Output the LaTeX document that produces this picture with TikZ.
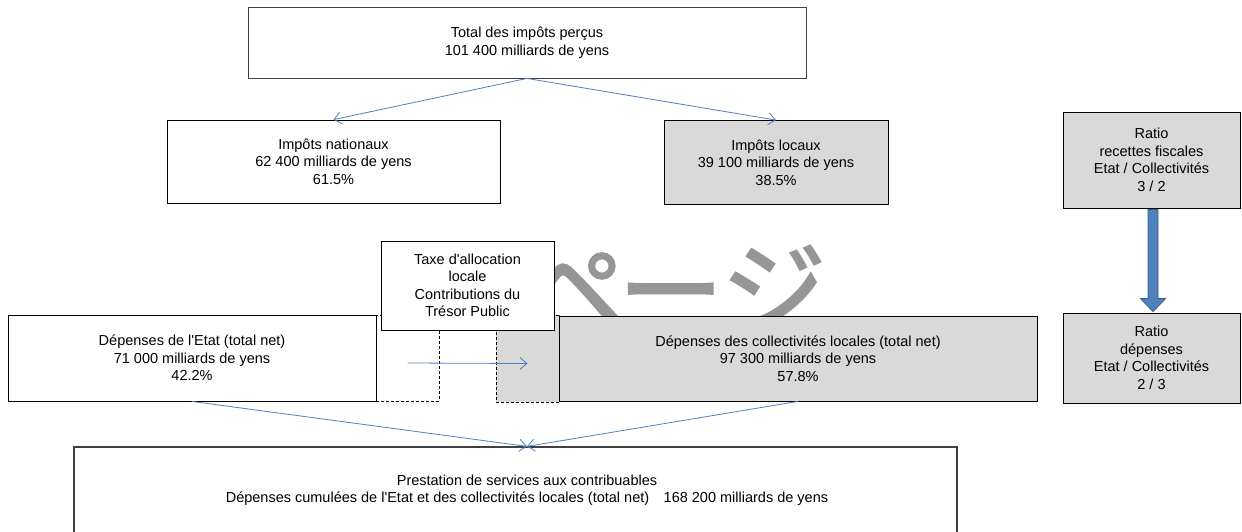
\documentclass[tikz,border=0pt]{standalone}
\usepackage{fontspec}
\setmainfont{Liberation Sans}
\newfontfamily\cjkfont{Noto Sans CJK JP}[FakeBold=2]
\usetikzlibrary{arrows.meta,calc}
\definecolor{boxgray}{HTML}{D9D9D9}
\definecolor{lineblue}{HTML}{4F81BD}
\definecolor{arrowedge}{HTML}{385D8A}
\definecolor{wmgray}{HTML}{969696}
\definecolor{framegray}{HTML}{404040}
\begin{document}
\begin{tikzpicture}[x=1pt,y=-1pt,
  box/.style={draw=black, line width=0.8pt, fill=white, inner sep=0pt, align=center,
    font=\fontsize{14.5}{17.5}\selectfont},
  graybox/.style={box, fill=boxgray},
  dashbox/.style={draw=black, line width=0.8pt, dash pattern=on 3pt off 2pt, inner sep=0pt},
  flow/.style={draw=lineblue, line width=0.8pt, -{Straight Barb[length=7pt,width=12pt]}},
  bigarrow/.style={fill=lineblue, draw=arrowedge, line width=0.8pt},
  plaintext/.style={inner sep=0pt, align=center, font=\fontsize{14.5}{17.5}\selectfont}
]
\useasboundingbox (0,0) rectangle (1242,531);
\fill[white] (0,0) rectangle (1242,531);

% watermark
\node[anchor=base west, inner sep=0pt, text=wmgray,
  font=\cjkfont\fontsize{105}{105}\selectfont] (wm) at (520,329) {ペ\kern-7ptージ};

% dashed extensions
\node[dashbox, fill=white, minimum width=63pt, minimum height=86pt] (etatx) at (407.5,358) {};
\node[dashbox, fill=boxgray, minimum width=63pt, minimum height=87pt] (collx) at (527.5,358.5) {};

% top
\node[box, draw=framegray, minimum width=558pt, minimum height=71pt] (top) at (527,42.5)
  {Total des impôts perçus\\101 400 milliards de yens};
\node[box, minimum width=333pt, minimum height=83pt] (nat) at (333.5,161.5)
  {Impôts nationaux\\62 400 milliards de yens\\61.5\%};
\node[graybox, minimum width=224pt, minimum height=84pt] (loc) at (776,162.5)
  {Impôts locaux\\39 100 milliards de yens\\38.5\%};

% ratios
\node[graybox, minimum width=177pt, minimum height=96pt] (r1) at (1151.5,160)
  {Ratio\\recettes fiscales\\Etat / Collectivités\\3 / 2};
\node[graybox, minimum width=177pt, minimum height=90pt] (r2) at (1151.5,358)
  {Ratio\\dépenses\\Etat / Collectivités\\2 / 3};

% spending
\node[box, minimum width=368pt, minimum height=86pt] (etat) at (192,358)
  {Dépenses de l\textquotesingle Etat (total net)\\71 000 milliards de yens\\42.2\%};
\node[graybox, minimum width=478pt, minimum height=85pt] (coll) at (798,358.5)
  {Dépenses des collectivités locales (total net)\\97 300 milliards de yens\\57.8\%};
\node[box, minimum width=173pt, minimum height=89pt] (taxe) at (467.5,285.5)
  {Taxe d\textquotesingle allocation\\locale\\Contributions du\\Trésor Public};

% bottom
\node[box, draw=framegray, line width=1.2pt, minimum width=883pt, minimum height=86pt] (bot) at (515.5,490) {};
\node[plaintext] (bottxt) at (527,490)
  {Prestation de services aux contribuables\\Dépenses cumulées de l\textquotesingle Etat et des collectivités locales (total net)\quad 168 200 milliards de yens};

% connectors
\draw[flow] (top.south) -- (nat.north);
\draw[flow] (top.south) -- (loc.north);
\draw[flow] ($(etatx.center)+(0,5)$) -- ($(collx.center)+(0,5)$);
\draw[flow] (etat.south) -- ($(bot.north)+(11.5,0)$);
\draw[flow] (coll.south) -- ($(bot.north)+(11.5,0)$);

% thick arrow
\coordinate (ta) at ($(r1.south)+(1.5,1)$);
\coordinate (tb) at ($(r2.north)+(1.5,-1)$);
\draw[bigarrow] ($(ta)+(-5,0)$) -- ($(ta)+(5,0)$) -- ($(tb)+(5,-13)$) -- ($(tb)+(12.5,-13)$)
  -- (tb) -- ($(tb)+(-12.5,-13)$) -- ($(tb)+(-5,-13)$) -- cycle;
\end{tikzpicture}
\end{document}
